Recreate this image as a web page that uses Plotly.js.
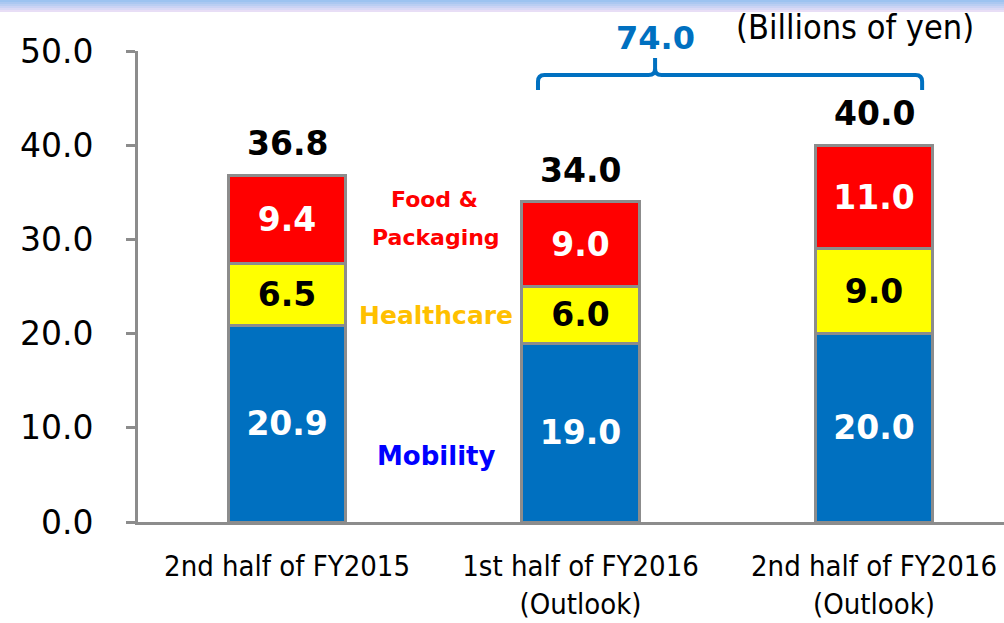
<!DOCTYPE html>
<html>
<head>
<meta charset="utf-8">
<script src="https://cdn.plot.ly/plotly-3.0.1.min.js"></script>
<style>html,body{margin:0;padding:0;background:#fff;}#chart{width:1004px;height:623px;}</style>
</head>
<body>
<div id="chart"></div>
<script>
// ---- data ----
const categories = ["2nd half of FY2015", "1st half of FY2016<br>(Outlook)", "2nd half of FY2016<br>(Outlook)"];
const mobility = [20.9, 19.0, 20.0];
const healthcare = [6.5, 6.0, 9.0];
const foodPackaging = [9.4, 9.0, 11.0];
const totals = [36.8, 34.0, 40.0];
const combinedTotal = "74.0";
const unitLabel = "(Billions of yen)";
const yTickVals = [0, 10, 20, 30, 40, 50];
const yTickText = ["0.0", "10.0", "20.0", "30.0", "40.0", "50.0"];

const xPos = categories.map((_, i) => i);
const FONT = "DejaVu Sans, Verdana, sans-serif";
const COND = "DejaVu Sans Condensed, DejaVu Sans, sans-serif";
const outline = {color: "#8c8c8c", width: 3};

function seg(name, vals, color, textColor) {
  return {
    type: "bar", name: name, x: xPos, y: vals, width: 0.4,
    marker: {color: color, line: outline},
    text: vals.map(v => v.toFixed(1)),
    textposition: "inside", insidetextanchor: "middle", textangle: 0,
    constraintext: "none",
    textfont: {family: FONT, size: 33, color: textColor, weight: "bold"},
    hoverinfo: "skip"
  };
}

const traces = [
  seg("Mobility", mobility, "#0070c0", "#ffffff"),
  seg("Healthcare", healthcare, "#ffff00", "#000000"),
  seg("Food & Packaging", foodPackaging, "#ff0000", "#ffffff")
];

const annotations = totals.map((t, i) => ({
  x: xPos[i], y: t, xref: "x", yref: "y", text: "<b>" + t.toFixed(1) + "</b>",
  showarrow: false, xanchor: "center", yanchor: "bottom", yshift: 10,
  font: {family: FONT, size: 33, color: "#000"}
}));
annotations.push(
  {x: 0.597, y: 1.0276, xref: "paper", yref: "paper", xanchor: "center", yanchor: "middle",
   text: "<b>" + combinedTotal + "</b>", showarrow: false,
   font: {family: FONT, size: 32, color: "#0070c0"}},
  {x: 0.828, y: 1.051, xref: "paper", yref: "paper", xanchor: "center", yanchor: "middle",
   text: unitLabel, showarrow: false,
   font: {family: COND, size: 34, color: "#000"}},
  {x: 0.504, y: 34.2, xref: "x", yref: "y", text: "<b>Food &amp;</b>", showarrow: false,
   font: {family: FONT, size: 22, color: "#ff0000"}},
  {x: 0.508, y: 30.15, xref: "x", yref: "y", text: "<b>Packaging</b>", showarrow: false,
   font: {family: FONT, size: 22, color: "#ff0000"}},
  {x: 0.508, y: 21.9, xref: "x", yref: "y", text: "<b>Healthcare</b>", showarrow: false,
   font: {family: FONT, size: 25, color: "#ffc000"}},
  {x: 0.51, y: 7.0, xref: "x", yref: "y", text: "<b>Mobility</b>", showarrow: false,
   font: {family: FONT, size: 26, color: "#0000ff"}}
);

// bracket over the two FY2016 bars
const xl = 0.855, xr = 2.164, xm = 1.254, yb = 45.86, yh = 47.45, yt = 49.26;
const bracket = `M ${xl},${yb} L ${xl},${yh-0.7} Q ${xl},${yh} ${xl+0.022},${yh} L ${xm-0.022},${yh} Q ${xm},${yh} ${xm},${yh+0.7} L ${xm},${yt} M ${xm},${yh+0.7} Q ${xm},${yh} ${xm+0.022},${yh} L ${xr-0.022},${yh} Q ${xr},${yh} ${xr},${yh-0.7} L ${xr},${yb}`;

const shapes = [{type: "path", xref: "x", yref: "y", path: bracket, line: {color: "#0070c0", width: 4}}];
// top gradient band
const stripes = 6;
for (let i = 0; i < stripes; i++) {
  const f = i / (stripes - 1);
  const r = Math.round(156 + (232 - 156) * f), g = Math.round(195 + (222 - 195) * f), b = Math.round(240 + (246 - 240) * f);
  const y0 = 1 + (51 - 2 * i) / 471, y1 = 1 + (51 - 2 * (i + 1)) / 471;
  shapes.push({type: "rect", xref: "paper", yref: "paper", x0: -0.2, x1: 1.01, y0: y1, y1: y0,
    fillcolor: `rgb(${r},${g},${b})`, line: {width: 0}, layer: "below"});
}

const layout = {
  width: 1004, height: 623,
  margin: {l: 138, r: 0, t: 51, b: 101},
  barmode: "stack", showlegend: false,
  paper_bgcolor: "#fff", plot_bgcolor: "#fff",
  xaxis: {range: [-0.508, 2.443], tickvals: xPos, ticktext: categories, showgrid: false, zeroline: false,
    showline: true, linecolor: "#8c8c8c", linewidth: 3, ticks: "", ticklabelstandoff: 16,
    tickfont: {family: COND, size: 29, color: "#000"}, fixedrange: true},
  yaxis: {range: [0, 50], tickvals: yTickVals, ticktext: yTickText, showgrid: false, zeroline: false,
    showline: true, linecolor: "#8c8c8c", linewidth: 3, ticks: "outside", ticklen: 9, tickwidth: 3,
    tickcolor: "#8c8c8c", ticklabelstandoff: 26,
    tickfont: {family: FONT, size: 33, color: "#000"}, fixedrange: true},
  annotations: annotations, shapes: shapes
};

Plotly.newPlot("chart", traces, layout, {displayModeBar: false, staticPlot: true});
</script>
</body>
</html>
